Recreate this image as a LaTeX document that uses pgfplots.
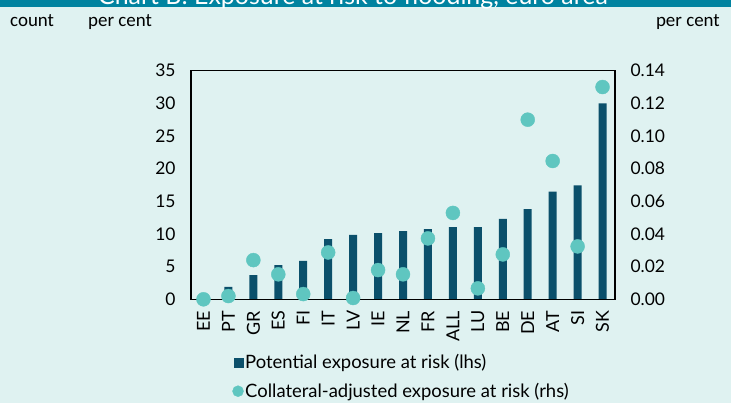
\documentclass[border=0pt]{standalone}
\usepackage{fontspec}
\setmainfont{Lato}
\newfontfamily\calib{Carlito}
\usepackage{pgfplots}
\usepackage{pgfplotstable}
\pgfplotsset{compat=1.18}
\definecolor{bg}{RGB}{223,242,241}
\definecolor{barc}{RGB}{11,80,107}
\definecolor{dotc}{RGB}{95,198,192}
\definecolor{banner}{RGB}{0,131,160}

\pgfplotstableread{
x lbl pot col
0 EE 0 0.000
1 PT 1.9 0.002
2 GR 3.7 0.024
3 ES 5.25 0.0153
4 FI 5.9 0.0032
5 IT 9.2 0.0287
6 LV 9.85 0.0008
7 IE 10.15 0.0179
8 NL 10.45 0.0153
9 FR 10.75 0.0373
10 ALL 11.07 0.0529
11 LU 11.07 0.0067
12 BE 12.3 0.0275
13 DE 13.8 0.110
14 AT 16.5 0.0847
15 SI 17.45 0.0324
16 SK 30.0 0.130
}\data

\begin{document}
\begin{tikzpicture}[x=1bp,y=1bp]
\useasboundingbox (0,0) rectangle (731,403);
\fill[bg] (0,0) rectangle (731,403);
\begin{scope}
\clip (0,0) rectangle (731,403);
\fill[banner] (0,395.5) rectangle (731,403);
\node[anchor=base, white, inner sep=0, font=\fontsize{25}{27}\selectfont] at (353,398.5) {Chart B: Exposure at risk to flooding, euro area};
\end{scope}
\node[anchor=base west, inner sep=0, font=\calib\fontsize{19}{20}\selectfont] at (10,376.5) {count};
\node[anchor=base west, inner sep=0, font=\calib\fontsize{19}{20}\selectfont] at (88,376.5) {per cent};
\node[anchor=base east, inner sep=0, font=\calib\fontsize{19}{20}\selectfont] at (720,376.5) {per cent};

\begin{axis}[
  at={(191bp,103.7bp)}, anchor=south west,
  scale only axis, width=424bp, height=228.6bp,
  xmin=-0.5, xmax=16.5, ymin=0, ymax=35,
  ytick={0,5,10,15,20,25,30,35},
  xtick={0,...,16},
  xticklabels={EE,PT,GR,ES,FI,IT,LV,IE,NL,FR,ALL,LU,BE,DE,AT,SI,SK},
  x tick label style={rotate=90, anchor=east, xshift=-8bp, font=\fontsize{18}{20}\selectfont},
  y tick label style={xshift=-12bp, font=\fontsize{17.5}{20}\selectfont},
  /pgf/number format/assume math mode=true,
  major tick length=0pt,
  axis line style={black, line width=1.4bp},
  axis on top,
]
\addplot[ybar, bar width=8bp, fill=barc, draw=none] table[x=x,y=pot]{\data};
\end{axis}

\begin{axis}[
  at={(191bp,103.7bp)}, anchor=south west,
  scale only axis, width=424bp, height=228.6bp,
  xmin=-0.5, xmax=16.5, ymin=0, ymax=0.14,
  axis y line*=right, hide x axis,
  axis line style={draw=none},
  ytick={0,0.02,0.04,0.06,0.08,0.10,0.12,0.14},
  scaled y ticks=false,
  yticklabel style={/pgf/number format/fixed, /pgf/number format/fixed zerofill, /pgf/number format/precision=2, xshift=12bp, font=\fontsize{17.5}{20}\selectfont},
  /pgf/number format/assume math mode=true,
  major tick length=0pt,
  clip=false,
  legend style={draw=none, fill=none, at={(0.097,-0.232)}, anchor=north west, inner sep=0pt, row sep=9bp, font=\fontsize{18.5}{20}\selectfont, nodes={inner xsep=1.5bp}},
  legend cell align=left,
]
\addlegendimage{legend image code/.code={\fill[barc] (0bp,-4.5bp) rectangle (9bp,4.5bp);}}
\addlegendentry{Potential exposure at risk (lhs)}
\addplot[only marks, mark=*, mark size=7bp, color=dotc, mark options={fill=dotc, draw=dotc},
  legend image code/.code={\fill[dotc] (3.5bp,0bp) circle (5.5bp);}] table[x=x,y=col]{\data};
\addlegendentry{Collateral-adjusted exposure at risk (rhs)}
\end{axis}
\end{tikzpicture}
\end{document}
